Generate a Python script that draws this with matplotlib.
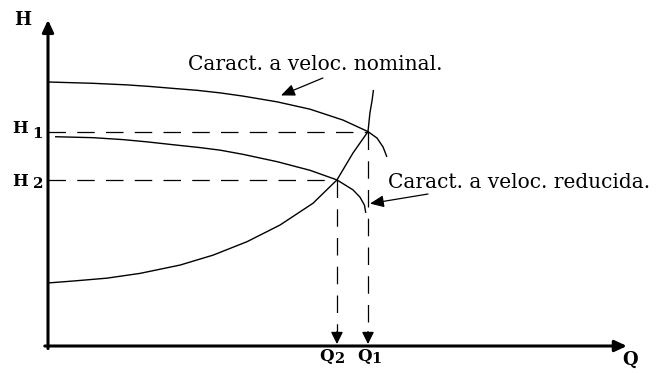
import matplotlib
matplotlib.use("Agg")
import matplotlib.pyplot as plt

# Pump characteristic at nominal speed (Q, H)
q_nominal = [0.0, 1.38, 2.47, 3.19, 3.91, 4.66, 5.38, 6.09, 7.16, 8.19, 9.22, 10.0, 10.28, 10.47, 10.59]
h_nominal = [8.25, 8.21, 8.16, 8.11, 8.05, 7.99, 7.91, 7.81, 7.63, 7.40, 7.06, 6.70, 6.50, 6.22, 5.91]

# Pump characteristic at reduced speed
q_reduced = [0.22, 1.41, 2.34, 3.09, 3.91, 4.75, 5.38, 6.09, 7.16, 8.19, 9.03, 9.53, 9.75, 9.89, 9.93]
h_reduced = [6.54, 6.51, 6.45, 6.38, 6.29, 6.20, 6.12, 5.99, 5.76, 5.49, 5.19, 4.88, 4.65, 4.40, 4.16]

# System curve
q_system = [0.0, 0.78, 1.84, 2.88, 4.13, 5.16, 6.22, 7.25, 8.28, 9.03, 9.53, 10.0, 10.06, 10.13, 10.17]
h_system = [1.97, 2.03, 2.12, 2.27, 2.53, 2.84, 3.26, 3.78, 4.46, 5.19, 6.03, 6.70, 7.28, 7.69, 8.00]

# Operating points
q1, h1 = 10.0, 6.70
q2, h2 = 9.03, 5.19

label_nominal = "Caract. a veloc. nominal."
label_reduced = "Caract. a veloc. reducida."

serif = ["DejaVu Serif"]

fig = plt.figure(figsize=(6.62, 3.73), dpi=100)
ax = fig.add_axes([0, 0, 1, 1])
ax.set_xlim(-1.5, 19.1875)
ax.set_ylim(-0.84375, 10.8125)
ax.axis("off")

# Coordinate axes with arrow heads
axis_arrow = dict(arrowstyle="-|>,head_length=0.6,head_width=0.28", lw=2.2,
                  color="black", mutation_scale=12, shrinkA=0, shrinkB=0)
ax.annotate("", xy=(0, 10.19), xytext=(0, -0.08), arrowprops=axis_arrow)
ax.annotate("", xy=(18.09, 0), xytext=(-0.1, 0), arrowprops=axis_arrow)

# Curves
curve_kw = dict(color="black", lw=1.0, solid_capstyle="butt")
ax.plot(q_nominal, h_nominal, **curve_kw)
ax.plot(q_reduced, h_reduced, **curve_kw)
ax.plot(q_system, h_system, **curve_kw)

# Dashed guides to the operating points
dash_kw = dict(color="black", lw=0.9, linestyle=(0, (14, 9)))
ax.plot([0, q1], [h1, h1], **dash_kw)
ax.plot([0, q2], [h2, h2], **dash_kw)
ax.plot([q1, q1], [h1, 0.35], **dash_kw)
ax.plot([q2, q2], [h2, 0.35], **dash_kw)

drop_arrow = dict(arrowstyle="-|>,head_length=0.6,head_width=0.3", lw=1.0,
                  color="black", mutation_scale=12, shrinkA=0, shrinkB=0)
for qv in (q1, q2):
    ax.annotate("", xy=(qv, 0.06), xytext=(qv, 0.45), arrowprops=drop_arrow)

# Axis and point labels
bold = dict(family=serif, fontweight="bold", color="black", ha="center", va="baseline")
ax.text(-0.78, 10.03, "H", fontsize=13, **bold)
ax.text(18.19, -0.59, "Q", fontsize=13, **bold)

ax.text(-0.875, 6.65, "H", fontsize=12, **bold)
ax.text(-0.33, 6.51, "1", fontsize=11, **bold)
ax.text(-0.875, 5.01, "H", fontsize=12, **bold)
ax.text(-0.32, 4.95, "2", fontsize=11, **bold)

ax.text(8.71, -0.47, "Q", fontsize=12, **bold)
ax.text(9.09, -0.54, "2", fontsize=10.5, **bold)
ax.text(9.89, -0.47, "Q", fontsize=12, **bold)
ax.text(10.25, -0.54, "1", fontsize=10.5, **bold)

# Curve annotations
note_arrow = dict(arrowstyle="-|>,head_length=0.7,head_width=0.3", lw=0.9,
                  color="black", mutation_scale=12, shrinkA=0, shrinkB=0)
ax.text(4.375, 8.625, label_nominal, family=serif, fontsize=14.5,
        ha="left", va="baseline")
ax.annotate("", xy=(7.28, 7.83), xytext=(8.59, 8.375), arrowprops=note_arrow)

ax.text(10.625, 4.94, label_reduced, family=serif, fontsize=14.5,
        ha="left", va="baseline")
ax.annotate("", xy=(10.06, 4.45), xytext=(11.875, 4.75), arrowprops=note_arrow)

fig.savefig("out.png", dpi=100, facecolor="white")
